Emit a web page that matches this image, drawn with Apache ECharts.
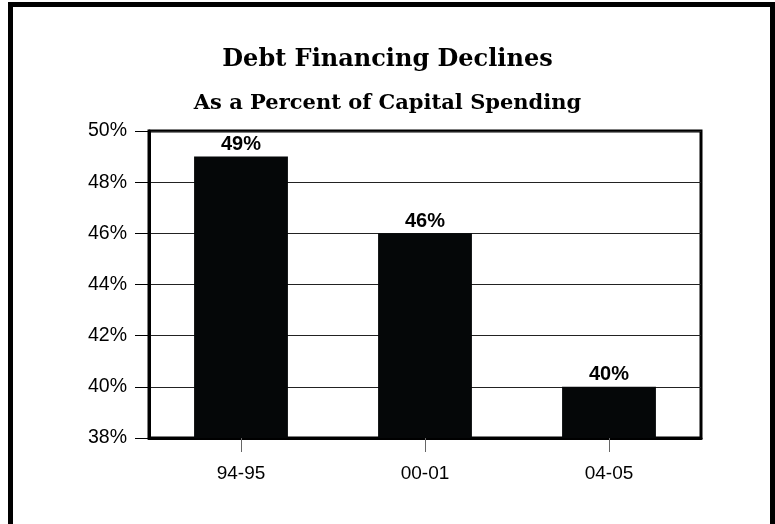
<!DOCTYPE html>
<html>
<head>
<meta charset="utf-8">
<script src="https://cdn.jsdelivr.net/npm/echarts@6/dist/echarts.min.js"></script>
<style>
html,body{margin:0;padding:0;background:#fff;}
#chart{width:775px;height:524px;}
</style>
</head>
<body>
<div id="chart"></div>
<script>
var categories = ['94-95', '00-01', '04-05'];
var values = [49, 46, 40];
var yTicks = { min: 38, max: 50, interval: 2 };
var titleText = 'Debt Financing Declines';
var subtitleText = 'As a Percent of Capital Spending';

var chart = echarts.init(document.getElementById('chart'), null, { renderer: 'canvas' });
chart.setOption({
  animation: false,
  backgroundColor: '#fff',
  title: {
    text: titleText,
    subtext: subtitleText,
    left: 'center',
    top: 43,
    itemGap: 21,
    textStyle: { fontFamily: 'DejaVu Serif', fontWeight: 'bold', fontSize: 24, color: '#000' },
    subtextStyle: { fontFamily: 'DejaVu Serif', fontWeight: 'bold', fontSize: 21, color: '#000' }
  },
  graphic: [{
    type: 'polyline',
    shape: { points: [[10.5, 530], [10.5, 4.5], [772.5, 4.5], [772.5, 530]] },
    style: { stroke: '#000', lineWidth: 5, fill: null }
  }],
  grid: {
    left: 149, right: 74, top: 131, bottom: 86,
    show: true, borderColor: '#000', borderWidth: 3, backgroundColor: 'transparent'
  },
  xAxis: {
    type: 'category',
    data: categories,
    axisLine: { show: true, lineStyle: { color: '#000', width: 3 } },
    axisTick: { show: true, alignWithLabel: true, length: 14, lineStyle: { color: '#666', width: 1 } },
    axisLabel: { fontFamily: 'Liberation Sans', fontSize: 19, color: '#000', margin: 26 }
  },
  yAxis: {
    type: 'value',
    min: yTicks.min, max: yTicks.max, interval: yTicks.interval,
    axisLine: { show: true, lineStyle: { color: '#000', width: 3 } },
    axisTick: { show: true, length: 14, lineStyle: { color: '#000', width: 1 } },
    axisLabel: { formatter: '{value}%', fontFamily: 'Liberation Sans', fontSize: 19.5, color: '#000', margin: 22 },
    splitLine: { show: true, lineStyle: { color: '#222', width: 1 } }
  },
  series: [{
    type: 'bar',
    data: values,
    barWidth: '51%',
    itemStyle: { color: '#050708' },
    label: {
      show: true, position: 'top', distance: 2, formatter: '{c}%',
      fontFamily: 'Liberation Sans', fontWeight: 'bold', fontSize: 20, color: '#000'
    }
  }]
});
</script>
</body>
</html>
